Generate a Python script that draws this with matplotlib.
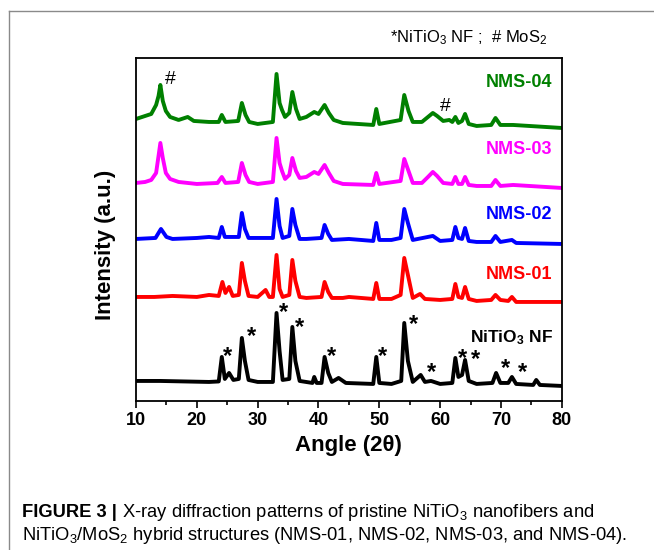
import matplotlib
matplotlib.use("Agg")
import matplotlib.pyplot as plt
from matplotlib.lines import Line2D

plt.rcParams["font.family"] = ["Liberation Sans", "DejaVu Sans"]
plt.rcParams["mathtext.default"] = "regular"

# stacked XRD patterns, intensity in a.u. (offsets already included)
nf_angle = [10, 14, 18, 22, 23.6, 24.1, 24.6, 25.3, 26.0, 26.9, 27.4, 27.9, 28.5, 30,
            32.5, 33.1, 33.6, 34.1, 35.2, 35.7, 36.2, 36.9, 39, 39.3, 39.7, 40.5, 41.0,
            41.6, 42.2, 43.3, 44.5, 49.0, 49.5, 50.0, 52, 53.6, 54.1, 54.7, 55.5, 56.8,
            57.5, 58.5, 60, 62.0, 62.5, 63.0, 63.6, 64.1, 64.7, 66, 68.6, 69.2, 69.9,
            71.2, 71.8, 72.5, 75.3, 75.8, 76.4, 80]
nf_int = [20, 20, 19.5, 19, 19.5, 44, 22, 28, 21, 22, 63, 40, 21, 19,
          19, 88, 50, 21, 22, 74, 40, 20, 18, 24, 18, 18, 44,
          28, 19, 23, 18, 17, 44, 18, 17, 20, 78, 40, 19, 26,
          19, 20, 17, 18, 43, 24, 26, 41, 20, 17, 18, 28, 18,
          18, 24, 17, 16, 21, 16, 15]

nms01_angle = [10, 13, 16, 20, 22, 23.6, 24.2, 24.7, 25.3, 25.9, 26.9, 27.4, 27.9, 28.5,
               30, 31.3, 31.9, 32.5, 33.1, 33.6, 34.1, 35.2, 35.7, 36.2, 36.9, 38, 40.5,
               41.0, 41.6, 42.2, 44, 45, 49.0, 49.5, 50.0, 52, 53.5, 54.1, 54.7, 55.5, 56.7,
               57.5, 60, 62.0, 62.5, 63.0, 63.6, 64.1, 64.7, 66, 68.4, 69.1, 69.9, 71.2,
               71.8, 72.5, 76, 80]
nms01_int = [104, 104, 105, 104, 106, 105, 119, 108, 114, 105, 106, 138, 120, 105,
             104, 111, 104, 104, 146, 112, 104, 106, 141, 120, 104, 103, 104,
             119, 109, 103, 103, 104, 102, 118, 102, 102, 106, 143, 126, 103, 107,
             102, 101, 102, 117, 104, 103, 114, 102, 100, 101, 106, 101, 100,
             104, 99, 99, 99]

nms02_angle = [10, 13.2, 14.1, 15.0, 16, 20, 22, 23.6, 24.1, 24.6, 26.9, 27.4, 27.9, 28.5,
               32.5, 33.1, 33.6, 34.1, 35.2, 35.7, 36.2, 36.9, 38, 40.5, 41.0, 41.6, 42.2,
               45, 49.0, 49.5, 50.0, 52, 53.5, 54.1, 54.7, 55.5, 58.8, 60, 62.0, 62.5,
               63.0, 63.6, 64.1, 64.7, 66, 68.4, 69.1, 69.9, 71.8, 72.5, 80]
nms02_int = [162, 163, 172, 164, 162, 163, 164, 163, 174, 164, 164, 188, 172, 163,
             163, 202, 175, 163, 165, 192, 176, 162, 162, 163, 176, 167, 161,
             162, 160, 178, 161, 161, 163, 192, 178, 161, 165, 160, 161, 174,
             163, 162, 173, 160, 159, 159, 165, 159, 161, 158, 157]

nms03_angle = [10, 11.5, 12.5, 13.3, 13.7, 14.0, 14.4, 14.9, 15.6, 17, 20, 23.4, 24.1,
               24.7, 26.8, 27.4, 28.0, 28.6, 30, 32.5, 33.1, 33.6, 34.0, 34.5, 35.2, 35.7,
               36.3, 36.9, 38, 39.3, 40, 41.0, 41.7, 42.5, 44, 49.0, 49.5, 50.0, 53.5,
               54.1, 54.8, 55.5, 57, 58, 58.8, 59.5, 60.5, 62.0, 62.5, 63.0, 63.6, 64.1,
               64.7, 66, 68.4, 69.1, 69.9, 72, 80]
nms03_int = [218, 219, 221, 228, 245, 258, 243, 228, 222, 219, 217, 218, 224,
             218, 219, 238, 226, 219, 217, 219, 263, 238, 230, 222, 226, 243,
             230, 223, 224, 229, 227, 236, 228, 220, 217, 216, 228, 217, 220,
             242, 230, 218, 218, 224, 229, 225, 218, 217, 224, 217, 217, 224,
             216, 215, 215, 221, 215, 216, 213]

nms04_angle = [10, 11.5, 12.5, 13.3, 13.7, 14.0, 14.4, 14.9, 15.6, 17, 18.5, 19.5, 22,
               23.6, 24.1, 24.7, 26.8, 27.4, 28.0, 28.6, 30, 32.5, 33.1, 33.6, 34.0, 34.5,
               35.2, 35.7, 36.3, 36.9, 38, 39.3, 40, 41.0, 41.7, 42.5, 44, 49.0, 49.5,
               50.0, 53.5, 54.1, 54.8, 55.5, 57, 58, 58.8, 59.5, 60.5, 61.5, 62.0, 62.5,
               63.0, 63.6, 64.1, 64.7, 66, 68.4, 69.1, 69.9, 72, 80]
nms04_int = [282, 285, 287, 296, 305, 316, 300, 290, 284, 281, 284, 280, 279,
             279, 286, 279, 280, 298, 286, 279, 277, 279, 327, 298, 291, 284,
             288, 309, 292, 282, 284, 289, 287, 296, 288, 281, 278, 276, 292,
             277, 281, 306, 290, 279, 279, 284, 288, 285, 280, 281, 279, 284,
             278, 280, 287, 277, 275, 276, 283, 276, 276, 273]

series = [
    (nf_angle, nf_int, "black"),
    (nms01_angle, nms01_int, "#ff0000"),
    (nms02_angle, nms02_int, "#0000ff"),
    (nms03_angle, nms03_int, "#ff00ff"),
    (nms04_angle, nms04_int, "#008000"),
]

# reflection markers (angle, intensity)
star_angle = [25.1, 29.0, 34.3, 36.9, 42.2, 50.6, 55.7, 58.5, 63.6, 65.8, 70.8, 73.6]
star_int = [44, 64, 88, 73, 44, 44, 76, 28, 42, 41, 32, 28]
hash_angle = [15.6, 60.8]
hash_int = [321, 294]

fig = plt.figure(figsize=(6.54, 5.5), dpi=100)
ax = fig.add_axes([0.208, 0.271, 0.651, 0.6236])

for x, y, c in series:
    ax.plot(x, y, color=c, lw=2.8, solid_joinstyle="round")

for x, y in zip(star_angle, star_int):
    ax.text(x, y, "*", fontsize=17, fontweight="bold", ha="center", va="center")
for x, y in zip(hash_angle, hash_int):
    ax.text(x, y, "#", fontsize=14, ha="center", va="center")

lab_kw = dict(fontsize=13, fontweight="bold", ha="right", va="center")
ax.text(78.5, 318, "NMS-04", color="#008000", **lab_kw)
ax.text(78.5, 251, "NMS-03", color="#ff00ff", **lab_kw)
ax.text(78.5, 186, "NMS-02", color="#0000ff", **lab_kw)
ax.text(78.5, 126, "NMS-01", color="#ff0000", **lab_kw)
ax.text(78.6, 63, "NiTiO$_3$ NF", color="black", fontsize=12.5,
        fontweight="bold", ha="right", va="center")

ax.set_xlim(10, 80)
ax.set_ylim(0, 343)
ax.set_xticks(range(10, 81, 10))
ax.set_xticks(range(15, 80, 10), minor=True)
ax.set_yticks([])
ax.tick_params(axis="x", which="major", direction="out", length=5, width=1.2,
               labelsize=13, pad=3)
ax.tick_params(axis="x", which="minor", direction="out", length=3, width=1.2)
for lbl in ax.get_xticklabels():
    lbl.set_fontweight("bold")
for s in ax.spines.values():
    s.set_linewidth(1.3)
ax.set_xlabel("Angle (2θ)", fontsize=16, fontweight="bold", labelpad=4)
fig.text(106 / 654, 1 - 245 / 550, "Intensity (a.u.)", fontsize=16,
         fontweight="bold", rotation=90, ha="center", va="center")

fig.text(390 / 654, 1 - 38 / 550, "*NiTiO$_3$ NF ;  # MoS$_2$", fontsize=12,
         ha="left", va="center")

# page frame
fig.add_artist(Line2D([9 / 654, 1], [1 - 11 / 550] * 2, color="#8a8a8a", lw=1))
fig.add_artist(Line2D([9 / 654] * 2, [0, 1 - 11 / 550], color="#8a8a8a", lw=1))

# caption
cap_size = 13.2
t1 = fig.text(22 / 654, 1 - 517 / 550, "FIGURE 3 |", fontsize=cap_size,
              fontweight="bold", ha="left", va="baseline")
fig.canvas.draw()
bb = t1.get_window_extent()
fig.text(bb.x1 / fig.bbox.width, 1 - 517 / 550,
         " X-ray diffraction patterns of pristine NiTiO$_3$ nanofibers and",
         fontsize=cap_size, ha="left", va="baseline")
fig.text(22 / 654, 1 - 540 / 550,
         "NiTiO$_3$/MoS$_2$ hybrid structures (NMS-01, NMS-02, NMS-03, and NMS-04).",
         fontsize=cap_size, ha="left", va="baseline")

fig.savefig("out.png", dpi=100)
